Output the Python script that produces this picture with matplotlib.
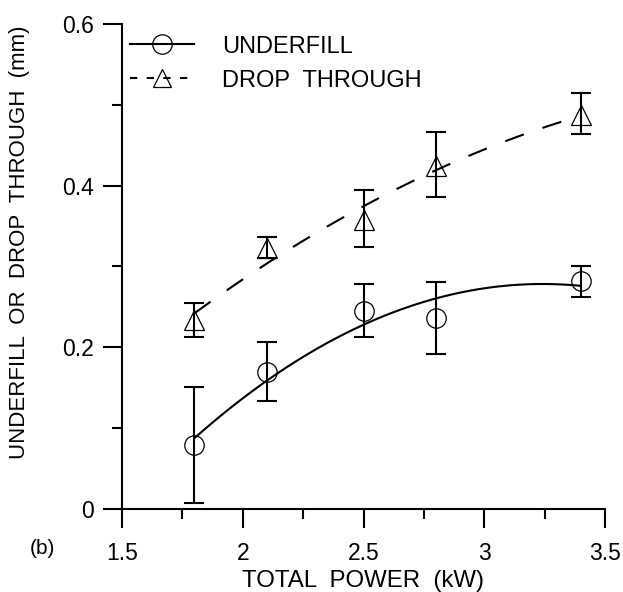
import numpy as np
import matplotlib
matplotlib.use("Agg")
import matplotlib.pyplot as plt
from matplotlib.lines import Line2D
from matplotlib.ticker import MultipleLocator, FuncFormatter

plt.rcParams['font.family'] = ['Liberation Sans', 'DejaVu Sans']

# ---- data ----
power_kw = [1.8, 2.1, 2.5, 2.8, 3.4]

underfill = [0.079, 0.169, 0.245, 0.236, 0.282]
underfill_hi = [0.151, 0.207, 0.278, 0.281, 0.301]
underfill_lo = [0.007, 0.134, 0.213, 0.192, 0.262]

drop_through = [0.234, 0.323, 0.358, 0.424, 0.487]
drop_hi = [0.255, 0.337, 0.395, 0.466, 0.515]
drop_lo = [0.213, 0.311, 0.324, 0.386, 0.464]

x_ticks = [1.5, 2.0, 2.5, 3.0, 3.5]
y_ticks = [0.0, 0.2, 0.4, 0.6]

labels = ["UNDERFILL", "DROP  THROUGH"]
x_label = "TOTAL  POWER  (kW)"
y_label = "UNDERFILL  OR  DROP  THROUGH  (mm)"
panel_tag = "(b)"

# ---- figure ----
W, H = 623, 592
fig = plt.figure(figsize=(W / 100, H / 100), dpi=100)
ax = fig.add_axes([122 / W, 1 - 509 / H, (605 - 122) / W, (509 - 24) / H])

x = np.array(power_kw)
xs = np.linspace(x.min(), x.max(), 200)

lw = 1.5
for y, hi, lo, marker, ls in [
    (underfill, underfill_hi, underfill_lo, 'o', '-'),
    (drop_through, drop_hi, drop_lo, '^', (0, (9.5, 9.5))),
]:
    y = np.array(y)
    err = [y - np.array(lo), np.array(hi) - y]
    coef = np.polyfit(x, y, 2)
    ax.plot(xs, np.polyval(coef, xs), color='black', lw=lw, linestyle=ls,
            zorder=2)
    ax.errorbar(x, y, yerr=err, fmt='none', ecolor='black', elinewidth=1.5,
                capsize=7.5, capthick=1.5, zorder=3)
    ax.plot(x, y, linestyle='none', marker=marker, markersize=14,
            markerfacecolor='none', markeredgecolor='black',
            markeredgewidth=0.9, zorder=4)

ax.set_xlim(1.5, 3.5)
ax.set_ylim(0, 0.6)
ax.set_xticks(x_ticks)
ax.set_yticks(y_ticks)
ax.xaxis.set_minor_locator(MultipleLocator(0.25))
ax.yaxis.set_minor_locator(MultipleLocator(0.1))
fmt = FuncFormatter(lambda v, p: f"{v:g}")
ax.xaxis.set_major_formatter(fmt)
ax.yaxis.set_major_formatter(fmt)

for s in ['top', 'right']:
    ax.spines[s].set_visible(False)
for s in ['left', 'bottom']:
    ax.spines[s].set_linewidth(1.5)

ax.tick_params(axis='both', which='major', direction='out', length=14,
               width=1.5, labelsize=16.5)
ax.tick_params(axis='both', which='minor', direction='out', length=7,
               width=1.5)
ax.tick_params(axis='x', which='major', pad=10)
ax.tick_params(axis='y', which='major', pad=6)

ax.set_xlabel(x_label, fontsize=17.3, labelpad=3)
ax.set_ylabel(y_label, fontsize=16)
ax.yaxis.set_label_coords(-0.19, 0.55)

handles = [
    Line2D([], [], color='black', lw=lw, marker='o', markersize=14,
           markerfacecolor='none', markeredgewidth=0.9),
    Line2D([], [], color='black', lw=lw, linestyle=(0, (3.5, 4.5)),
           marker='^', markersize=13, markerfacecolor='none',
           markeredgewidth=0.9),
]
ax.legend(handles, labels, loc='upper left', bbox_to_anchor=(-0.012, 1.005),
          frameon=False, fontsize=17, handlelength=2.7, handletextpad=1.2,
          labelspacing=0.5, borderaxespad=0.2)

fig.text(42 / W, 1 - 549 / H, panel_tag, fontsize=15, ha='center', va='center')

fig.savefig("out.png", dpi=100)
